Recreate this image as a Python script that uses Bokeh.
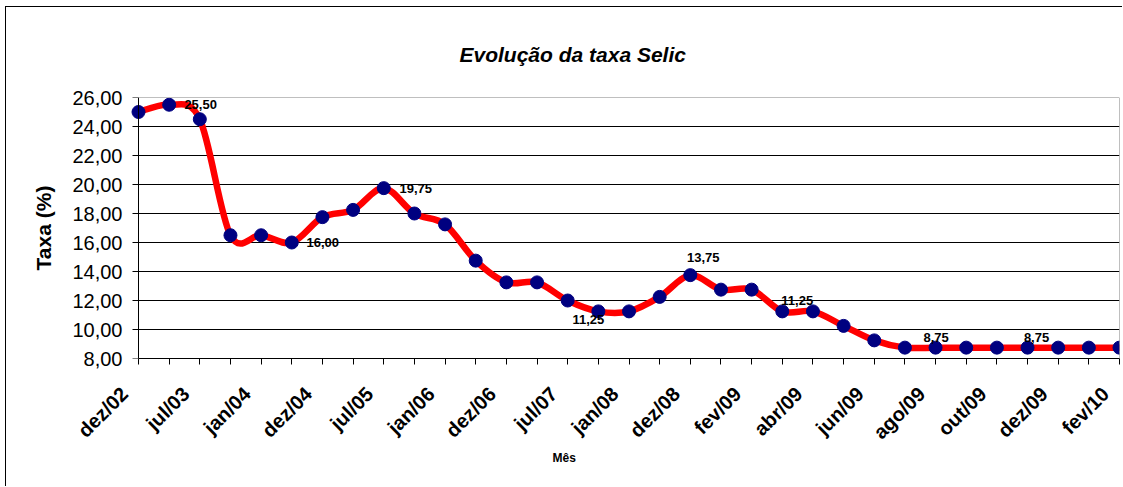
import math
from bokeh.plotting import figure
from bokeh.models import FixedTicker, ColumnDataSource, LabelSet, Title, Range1d, LinearAxis, Span
from bokeh.embed import file_html
from bokeh.resources import INLINE
from bokeh.core.properties import value

# ---- data ----
months = ["dez/02", "jan/03", "jul/03", "out/03", "jan/04", "mai/04", "dez/04", "jan/05",
          "jul/05", "out/05", "jan/06", "jul/06", "dez/06", "mar/07", "jul/07", "set/07",
          "jan/08", "jun/08", "dez/08", "jan/09", "fev/09", "mar/09", "abr/09", "mai/09",
          "jun/09", "jul/09", "ago/09", "set/09", "out/09", "nov/09", "dez/09", "jan/10", "fev/10"]
selic = [25.00, 25.50, 24.50, 16.50, 16.50, 16.00, 17.75, 18.25, 19.75, 18.00, 17.25,
         14.75, 13.25, 13.25, 12.00, 11.25, 11.25, 12.25, 13.75, 12.75, 12.75, 11.25,
         11.25, 10.25, 9.25, 8.75, 8.75, 8.75, 8.75, 8.75, 8.75, 8.75, 8.75]
y_ticks = [8, 10, 12, 14, 16, 18, 20, 22, 24, 26]
y_tick_labels = ["8,00", "10,00", "12,00", "14,00", "16,00", "18,00", "20,00", "22,00", "24,00", "26,00"]
labelled_points = [1, 5, 8, 15, 18, 21, 26, 29]

# label offsets (px) - styling, not data
lab_dx = [31.5, 31, 32, -10, 13, 15, 0.5, 9]
lab_dy = [0, 0, 0, -8, 18, 11, 10, 10]

FONT = "Liberation Sans"
n = len(selic)
xs = list(range(n))
shown = list(range(0, n, 2))   # every other category label is shown

# layout: plot area 981 px wide for n-1 category steps; frame starts 16 px left of it
PLOT_W = 981
ppu = PLOT_W / (n - 1)
pad_left = 16 / ppu          # room so the first rotated label can sit left of its tick
label_shift = 14 / ppu       # labels end ~14 px left of their tick

# ---- smoothed line (Catmull-Rom style bezier, like Excel smoothing) ----
x0, y0, x1, y1, cx0, cy0, cx1, cy1 = [], [], [], [], [], [], [], []
for i in range(n - 1):
    ip = max(i - 1, 0)
    inn = min(i + 2, n - 1)
    x0.append(xs[i]); y0.append(selic[i])
    x1.append(xs[i + 1]); y1.append(selic[i + 1])
    cx0.append(xs[i] + (xs[i + 1] - xs[ip]) / 6.0)
    cy0.append(selic[i] + (selic[i + 1] - selic[ip]) / 6.0)
    cx1.append(xs[i + 1] - (xs[inn] - xs[i]) / 6.0)
    cy1.append(selic[i + 1] - (selic[inn] - selic[i]) / 6.0)

p = figure(width=1117, height=480, x_range=Range1d(-pad_left, n - 1), y_range=Range1d(8, 26),
           output_backend="svg", toolbar_location=None,
           min_border_left=116, min_border_right=4, min_border_top=90, min_border_bottom=129)
# outer chart-area border (left/top visible in the reference)
p.styles = {"margin-left": "5px", "margin-top": "6px",
            "border-left": "1px solid #000", "border-top": "1px solid #000"}
p.background_fill_color = "white"
p.border_fill_color = "white"
p.outline_line_color = None
p.xgrid.visible = False
p.ygrid.visible = False

# horizontal grid lines across the plot area only (top one = grey plot-area border)
grid_y = y_ticks[1:]
p.segment(x0=[0] * len(grid_y), y0=grid_y, x1=[n - 1] * len(grid_y), y1=grid_y,
          line_color=["#808080" if t == y_ticks[-1] else "black" for t in grid_y], line_width=1)
p.add_layout(Span(location=n - 1, dimension="height", line_color="#808080", line_width=1))

# y axis labels (left panel)
p.yaxis.ticker = FixedTicker(ticks=y_ticks)
p.yaxis.major_label_overrides = {t: l for t, l in zip(y_ticks, y_tick_labels)}
p.yaxis.major_label_text_font = FONT
p.yaxis.major_label_text_font_size = "20px"
p.yaxis.major_label_text_color = "black"
p.yaxis.major_tick_out = 0
p.yaxis.major_tick_in = 0
p.yaxis.minor_tick_out = 0
p.yaxis.minor_tick_in = 0
p.yaxis.major_label_standoff = 0
p.yaxis.axis_line_color = None
p.yaxis.major_tick_line_color = None
p.yaxis.minor_tick_line_color = None
p.yaxis.axis_label = "Taxa (%)"
p.yaxis.axis_label_text_font = FONT
p.yaxis.axis_label_text_font_size = "21px"
p.yaxis.axis_label_text_font_style = "bold"
p.yaxis.axis_label_text_color = "black"
p.yaxis.axis_label_standoff = 14

# y axis line + ticks, placed at the first category
y_line_axis = LinearAxis(fixed_location=0, ticker=FixedTicker(ticks=y_ticks),
                         major_label_overrides={t: "" for t in y_ticks},
                         major_label_text_font_size="1px", major_label_standoff=0,
                         major_tick_out=6, major_tick_in=0, minor_tick_out=0, minor_tick_in=0,
                         axis_line_color="black", major_tick_line_color="black",
                         minor_tick_line_color=None)
p.add_layout(y_line_axis, "left")

# x axis: line and tick marks on every category
p.xaxis.bounds = (0, n - 1)
p.xaxis.ticker = FixedTicker(ticks=xs)
p.xaxis.major_label_overrides = {i: "" for i in xs}
p.xaxis.major_label_text_font_size = "1px"
p.xaxis.major_label_standoff = 0
p.xaxis.major_tick_out = 6
p.xaxis.major_tick_in = 0
p.xaxis.minor_tick_out = 0
p.xaxis.minor_tick_in = 0
p.xaxis.axis_line_color = "black"
p.xaxis.major_tick_line_color = "black"

# category labels (every other one), rotated and ending just left of their tick, as in Excel
p.extra_x_ranges = {"labels": Range1d(start=-pad_left + label_shift, end=n - 1 + label_shift)}
lab_axis = LinearAxis(x_range_name="labels", ticker=FixedTicker(ticks=shown),
                      major_label_overrides={i: months[i] for i in shown},
                      major_label_orientation=math.pi / 4,
                      major_label_text_font=FONT, major_label_text_font_size="20px",
                      major_label_text_font_style="bold", major_label_text_color="black",
                      major_label_standoff=26, major_tick_out=0, major_tick_in=0,
                      minor_tick_out=0, minor_tick_in=0,
                      axis_line_color=None, major_tick_line_color=None, minor_tick_line_color=None)
p.add_layout(lab_axis, "below")

# line + markers
p.bezier(x0=x0, y0=y0, x1=x1, y1=y1, cx0=cx0, cy0=cy0, cx1=cx1, cy1=cy1,
         line_color="#ff0000", line_width=6.5, line_cap="round")
p.scatter(xs, selic, size=13, fill_color="#000080", line_color="#000080", line_width=1)

# data labels
lab_src = ColumnDataSource(dict(
    x=[xs[i] for i in labelled_points],
    y=[selic[i] for i in labelled_points],
    t=[("%.2f" % selic[i]).replace(".", ",") for i in labelled_points],
    dx=lab_dx, dy=lab_dy))
p.add_layout(LabelSet(x="x", y="y", text="t", source=lab_src, x_offset="dx", y_offset="dy",
                      text_align="center", text_baseline="middle",
                      text_font=value(FONT), text_font_size="13px", text_font_style="bold",
                      text_color="black"))

# title and x axis title
p.add_layout(Title(text="Evolução da taxa Selic", align="left", offset=337,
                   text_font=FONT, text_font_size="21px", text_font_style="bold italic",
                   text_color="black", standoff=63), "above")
p.add_layout(Title(text="Mês", align="left", offset=430,
                   text_font=FONT, text_font_size="12px", text_font_style="bold",
                   text_color="black", standoff=-10), "below")

open("out.html", "w").write(file_html(p, INLINE))
